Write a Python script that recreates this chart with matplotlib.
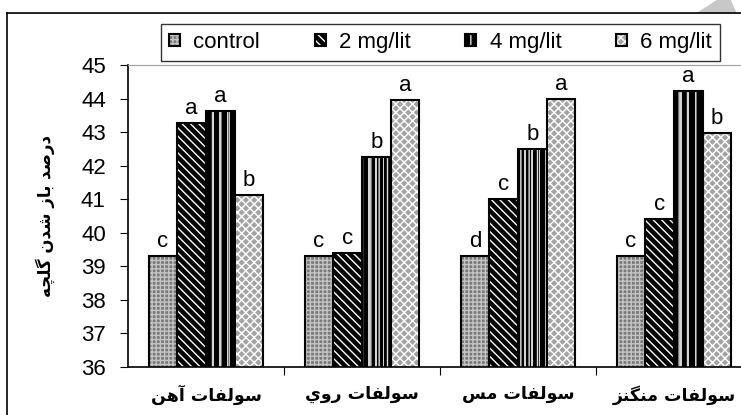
import matplotlib
matplotlib.use("Agg")
import matplotlib.pyplot as plt
import numpy as np
from matplotlib.lines import Line2D
from matplotlib.patches import Polygon
from matplotlib.legend_handler import HandlerTuple

# datos
grupos = ["سولفات آهن", "سولفات روي", "سولفات مس", "سولفات منگنز"]
series = ["control", "2 mg/lit", "4 mg/lit", "6 mg/lit"]
valores = [
    [39.3, 39.3, 39.3, 39.3],     # control
    [43.28, 39.4, 41.0, 40.42],   # 2 mg/lit
    [43.63, 42.25, 42.5, 44.23],  # 4 mg/lit
    [41.12, 43.95, 44.0, 42.98],  # 6 mg/lit
]
letras = [
    ["c", "c", "d", "c"],
    ["a", "c", "c", "c"],
    ["a", "b", "b", "a"],
    ["b", "a", "a", "b"],
]
ylabel = "درصد باز شدن گلچه"

# estilo de cada serie: (relleno, color del rayado, rayado)
estilos = [
    ("#7a7a7a", "#c4c4c4", "++++"),
    ("#000000", "#ffffff", "\\\\\\\\"),
    ("#000000", "#e0e0e0", "||"),
    ("#a4a4a4", "#ffffff", "xxxx"),
]

# formas de presentacion arabes (aislada, final, inicial, medial)
FORMAS = {
    "ا": ("\uFE8D", "\uFE8E", None, None),
    "آ": ("\uFE81", "\uFE82", None, None),
    "ب": ("\uFE8F", "\uFE90", "\uFE91", "\uFE92"),
    "ت": ("\uFE95", "\uFE96", "\uFE97", "\uFE98"),
    "د": ("\uFEA9", "\uFEAA", None, None),
    "ر": ("\uFEAD", "\uFEAE", None, None),
    "ز": ("\uFEAF", "\uFEB0", None, None),
    "س": ("\uFEB1", "\uFEB2", "\uFEB3", "\uFEB4"),
    "ش": ("\uFEB5", "\uFEB6", "\uFEB7", "\uFEB8"),
    "ص": ("\uFEB9", "\uFEBA", "\uFEBB", "\uFEBC"),
    "ف": ("\uFED1", "\uFED2", "\uFED3", "\uFED4"),
    "ل": ("\uFEDD", "\uFEDE", "\uFEDF", "\uFEE0"),
    "م": ("\uFEE1", "\uFEE2", "\uFEE3", "\uFEE4"),
    "ن": ("\uFEE5", "\uFEE6", "\uFEE7", "\uFEE8"),
    "ه": ("\uFEE9", "\uFEEA", "\uFEEB", "\uFEEC"),
    "و": ("\uFEED", "\uFEEE", None, None),
    "ي": ("\uFEF1", "\uFEF2", "\uFEF3", "\uFEF4"),
    "چ": ("\uFB7A", "\uFB7B", "\uFB7C", "\uFB7D"),
    "گ": ("\uFB92", "\uFB93", "\uFB94", "\uFB95"),
}


def dual(c):
    return c in FORMAS and FORMAS[c][2] is not None


def dar_forma(texto):
    res = []
    for i, c in enumerate(texto):
        if c not in FORMAS:
            res.append(c)
            continue
        prev = texto[i - 1] if i > 0 else ""
        nxt = texto[i + 1] if i + 1 < len(texto) else ""
        con_prev = dual(prev)
        con_next = dual(c) and nxt in FORMAS
        iso, fin, ini, med = FORMAS[c]
        if con_prev and con_next:
            res.append(med)
        elif con_prev:
            res.append(fin)
        elif con_next:
            res.append(ini)
        else:
            res.append(iso)
    return "".join(res)[::-1]


plt.rcParams["font.family"] = ["Liberation Sans", "DejaVu Sans"]
plt.rcParams["hatch.linewidth"] = 1.0

fig = plt.figure(figsize=(7.41, 4.15), dpi=100)
ax = fig.add_axes([128 / 741, 1 - 367 / 415, 624 / 741, (367 - 65) / 415])

x = np.arange(len(grupos))
ancho = 0.184
handles = []
for i, serie in enumerate(series):
    cara, rayado_color, rayado = estilos[i]
    pos = x + (i - 1.5) * ancho
    b1 = ax.bar(pos, valores[i], ancho, color=cara, edgecolor=rayado_color,
                hatch=rayado, linewidth=0)
    if i == 2:
        # rayas verticales claras dentro de las barras negras
        for k in (-1, 0, 1):
            ax.bar(pos + k * ancho / 4, valores[i], 0.011, color="#d4d4d4", linewidth=0)
    b2 = ax.bar(pos, valores[i], ancho, fill=False, edgecolor="black", linewidth=1.5)
    handles.append((b1[0], b2[0]))
    for xp, v, l in zip(pos, valores[i], letras[i]):
        ax.text(xp, v + 0.12, l, ha="center", va="bottom", fontsize=16)

ax.set_ylim(36, 45)
ax.set_xlim(-0.5, len(grupos) - 0.5)
ax.set_yticks(np.arange(36, 46, 1))
ax.tick_params(axis="y", labelsize=16, length=6, direction="out", pad=10)
ax.set_xticks(x[:-1] + 0.5)
ax.set_xticklabels([])
ax.tick_params(axis="x", length=6, direction="out")
for xi, g in zip(x, grupos):
    ax.text(xi, -0.06, dar_forma(g), transform=ax.get_xaxis_transform(), ha="center",
            va="top", fontsize=12.5, fontweight="bold", family=["DejaVu Sans"])
ax.spines["top"].set_color("#a0a0a0")
ax.spines["right"].set_visible(False)
ax.spines["left"].set_linewidth(1.2)
ax.spines["bottom"].set_linewidth(1.2)

fig.text(45 / 741, 1 - 216 / 415, dar_forma(ylabel), rotation=90, ha="center", va="center",
         fontsize=12, fontweight="bold", family=["DejaVu Sans"])

leg = fig.legend(handles, series, loc="center",
                 bbox_to_anchor=(161 / 741, 1 - 63 / 415, 559 / 741, 41 / 415), mode="expand",
                 ncol=4, fontsize=16, frameon=True, fancybox=False, edgecolor="black",
                 handlelength=0.5, handleheight=0.5, handletextpad=0.6, columnspacing=1.5,
                 borderpad=0.35, borderaxespad=0, handler_map={tuple: HandlerTuple(ndivide=1)})
leg.get_frame().set_linewidth(1.0)

# marco exterior y marca gris de la pagina
fig.add_artist(Line2D([7 / 741, 1], [1 - 13 / 415, 1 - 13 / 415], color="black", lw=1.2))
fig.add_artist(Line2D([7 / 741, 7 / 741], [0, 1 - 13 / 415], color="black", lw=1.2))
fig.add_artist(Polygon([(698 / 741, 1 - 13 / 415), (718 / 741, 1), (730 / 741, 1), (736 / 741, 1 - 13 / 415)],
                       closed=True, color="#c8c8c8", transform=fig.transFigure))

fig.savefig("out.png", dpi=100)
